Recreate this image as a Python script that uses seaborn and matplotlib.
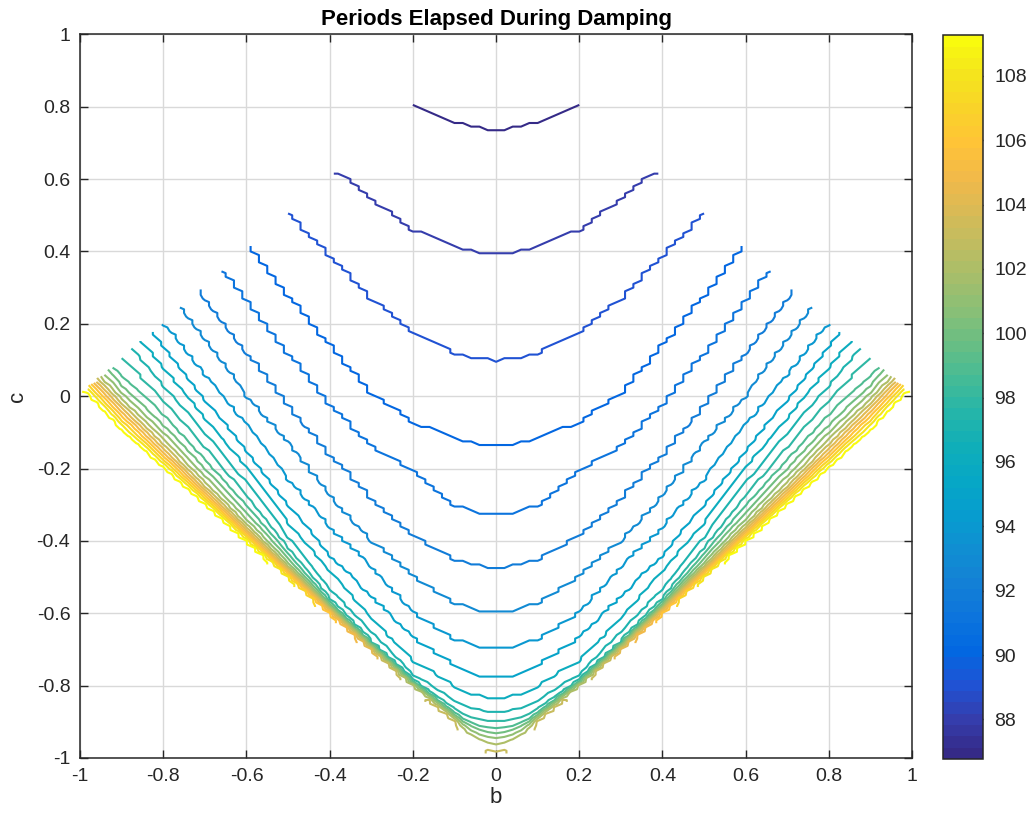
import numpy as np
import matplotlib
matplotlib.use("Agg")
import matplotlib.pyplot as plt
import seaborn as sns
from matplotlib.colors import ListedColormap, Normalize
from matplotlib.cm import ScalarMappable

nan = np.nan

# ---------------- chart text ----------------
TITLE = "Periods Elapsed During Damping"
X_LABEL = "b"
Y_LABEL = "c"
axis_ticks = [-1, -0.8, -0.6, -0.4, -0.2, 0, 0.2, 0.4, 0.6, 0.8, 1]
axis_tick_labels = ["-1", "-0.8", "-0.6", "-0.4", "-0.2", "0", "0.2", "0.4", "0.6", "0.8", "1"]
colorbar_ticks = [88, 90, 92, 94, 96, 98, 100, 102, 104, 106, 108]
color_range = (86.77, 109.26)

# ---------------- data ----------------
contour_levels = list(range(87, 110))
# |b| positions where each contour was read
b_samples = [0.0, 0.1, 0.2, 0.3, 0.4, 0.5, 0.6, 0.7, 0.8, 0.9]
# height of each contour above the lower boundary c = |b| - 1 at b_samples
# (nan once the contour has met the upper boundary c = 1 - |b|;
#  negative = the contour has not yet come off the lower boundary)
h087 = [1.739, 1.658, nan, nan, nan, nan, nan, nan, nan, nan]
h088 = [1.394, 1.312, 1.260, 1.245, nan, nan, nan, nan, nan, nan]
h089 = [1.100, 1.020, 0.977, 0.970, 0.990, nan, nan, nan, nan, nan]
h090 = [0.866, 0.785, 0.728, 0.710, 0.742, 0.780, nan, nan, nan, nan]
h091 = [0.674, 0.600, 0.596, 0.563, 0.578, 0.620, 0.663, nan, nan, nan]
h092 = [0.527, 0.450, 0.415, 0.420, 0.440, 0.473, 0.520, nan, nan, nan]
h093 = [0.405, 0.330, 0.304, 0.300, 0.324, 0.373, 0.400, 0.460, nan, nan]
h094 = [0.303, 0.230, 0.203, 0.230, 0.240, 0.270, 0.322, 0.360, nan, nan]
h095 = [0.225, 0.155, 0.134, 0.145, 0.160, 0.200, 0.249, 0.290, 0.340, nan]
h096 = [0.167, 0.100, 0.069, 0.085, 0.120, 0.150, 0.203, 0.240, 0.280, nan]
h097 = [0.127, 0.060, 0.028, 0.050, 0.065, 0.110, 0.161, 0.200, 0.230, nan]
h098 = [0.101, 0.035, 0.015, 0.020, 0.040, 0.080, 0.125, 0.160, 0.190, nan]
h099 = [0.083, 0.025, 0.011, 0.016, 0.032, 0.065, 0.097, 0.125, 0.150, 0.155]
h100 = [0.070, 0.020, 0.009, 0.013, 0.026, 0.052, 0.079, 0.100, 0.120, 0.130]
h101 = [0.055, 0.015, 0.007, 0.011, 0.020, 0.040, 0.060, 0.080, 0.100, 0.110]
h102 = [0.040, 0.010, 0.005, 0.009, 0.016, 0.030, 0.046, 0.062, 0.082, 0.092]
h103 = [0.020, 0.004, -0.002, 0.006, 0.012, 0.024, 0.037, 0.050, 0.066, 0.080]
h104 = [-0.005, -0.006, -0.008, 0.002, 0.009, 0.019, 0.030, 0.041, 0.055, 0.068]
h105 = [-0.015, -0.015, -0.014, -0.003, 0.005, 0.014, 0.024, 0.033, 0.045, 0.057]
h106 = [-0.025, -0.025, -0.020, -0.008, 0.002, 0.010, 0.018, 0.025, 0.035, 0.045]
h107 = [-0.035, -0.035, -0.028, -0.014, -0.003, 0.006, 0.012, 0.018, 0.025, 0.033]
h108 = [-0.045, -0.045, -0.036, -0.020, -0.008, 0.002, 0.007, 0.011, 0.015, 0.021]
h109 = [-0.055, -0.055, -0.045, -0.030, -0.015, -0.003, 0.003, 0.005, 0.007, 0.010]
# |b| where each contour meets the upper boundary c = 1 - |b|
b_end = [0.200, 0.380, 0.498, 0.592, 0.656, 0.712, 0.756, 0.800, 0.826, 0.852, 0.872,
         0.896, 0.920, 0.930, 0.940, 0.950, 0.955, 0.960, 0.965, 0.970, 0.975, 0.980, 0.985]

heights = [h087, h088, h089, h090, h091, h092, h093, h094, h095, h096, h097, h098,
           h099, h100, h101, h102, h103, h104, h105, h106, h107, h108, h109]

# ---------------- colour map (MATLAB parula, 64 steps) ----------------
parula_anchors = [
    (0.2081, 0.1663, 0.5292), (0.2081, 0.2386, 0.6771), (0.1253, 0.3242, 0.8303),
    (0.0060, 0.4086, 0.8828), (0.0498, 0.4586, 0.8641), (0.0779, 0.5040, 0.8384),
    (0.0641, 0.5570, 0.8240), (0.0265, 0.6137, 0.8135), (0.0228, 0.6535, 0.7768),
    (0.0590, 0.6838, 0.7254), (0.1453, 0.7098, 0.6646), (0.2586, 0.7317, 0.5954),
    (0.3953, 0.7459, 0.5244), (0.5300, 0.7491, 0.4661), (0.6473, 0.7456, 0.4188),
    (0.7525, 0.7384, 0.3768), (0.8507, 0.7299, 0.3360), (0.9450, 0.7261, 0.2886),
    (0.9990, 0.7653, 0.2164), (0.9789, 0.8271, 0.1633), (0.9589, 0.8949, 0.1132),
    (0.9763, 0.9831, 0.0538)]
cmap = ListedColormap(sns.blend_palette(parula_anchors, n_colors=64))
norm = Normalize(vmin=color_range[0], vmax=color_range[1])

# ---------------- build the gridded field from the read contours ----------------
def u(b):
    b = np.asarray(b, float)
    return np.where(b < 0.1, b ** 2 / 0.1, b)

def contour_c(idx, ab):
    hs = np.array(heights[idx], float)
    bs = np.array(b_samples, float)
    ok = ~np.isnan(hs)
    be = b_end[idx]
    kb = np.concatenate([bs[ok], [be, 1.3]])
    kc = np.concatenate([hs[ok] + bs[ok] - 1.0, [1.0 - be, 1.0 - be + 1.5 * (1.3 - be)]])
    return np.interp(u(ab), u(kb), kc)

b_grid = np.round(np.arange(-50, 51) * 0.02, 4)
c_grid = np.round(np.arange(-103, 101) * 0.01, 4)
B, C = np.meshgrid(b_grid, c_grid)
Z = np.full(B.shape, np.nan)
lv = np.array(contour_levels, float)
for i, b in enumerate(b_grid):
    ab = abs(b)
    ck = np.array([contour_c(k, ab) for k in range(len(lv))], float)
    hk = ck + 1.0 - ab
    hk = np.minimum.accumulate(hk) - np.arange(len(hk)) * 1e-7
    xp = np.concatenate([[hk[-1] - 0.004], hk[::-1], [hk[0] + 0.4]])
    fp = np.concatenate([[color_range[1]], lv[::-1], [color_range[0]]])
    d = c_grid + 1.0 - ab
    T = np.interp(np.maximum(d, 0.0), xp, fp)
    valid = (d >= -0.025) & (d <= 2.0 - 2.0 * ab + 0.015)
    Z[valid, i] = T[valid]
Zq = np.ma.masked_invalid((np.floor(Z * 4) + 0.5) / 4)

# ---------------- draw ----------------
sns.set_theme(style="ticks")
plt.rcParams['font.family'] = ['Liberation Sans', 'DejaVu Sans']
dark = (0.15, 0.15, 0.15)

fig = plt.figure(figsize=(10.26, 8.14), dpi=100)
ax = fig.add_axes([0.078, 0.0688, 0.811, 0.889])
cax = fig.add_axes([0.919, 0.0676, 0.039, 0.889])

ax.contour(B, C, Zq, levels=contour_levels, cmap=cmap, norm=norm, linewidths=1.5)

ax.set_xlim(-1, 1)
ax.set_ylim(-1, 1)
ax.set_xticks(axis_ticks)
ax.set_xticklabels(axis_tick_labels)
ax.set_yticks(axis_ticks)
ax.set_yticklabels(axis_tick_labels)
ax.grid(True, color='#d9d9d9', linewidth=1.0)
ax.set_axisbelow(True)
ax.tick_params(direction='in', top=True, right=True, length=6, width=1.0,
               labelsize=14, colors=dark, pad=7)
for s in ax.spines.values():
    s.set_color(dark)
    s.set_linewidth(1.1)
ax.set_title(TITLE, fontsize=16, fontweight='bold', pad=7, color='black')
ax.set_xlabel(X_LABEL, fontsize=16, color=dark, labelpad=2)
ax.set_ylabel(Y_LABEL, fontsize=16, color=dark, labelpad=6)

cb = fig.colorbar(ScalarMappable(norm=norm, cmap=cmap), cax=cax, ticks=colorbar_ticks)
cb.outline.set_edgecolor(dark)
cb.outline.set_linewidth(1.1)
cax.tick_params(direction='in', length=6, width=1.0, labelsize=14, colors=dark, pad=8)

fig.savefig("out.png", dpi=100)
